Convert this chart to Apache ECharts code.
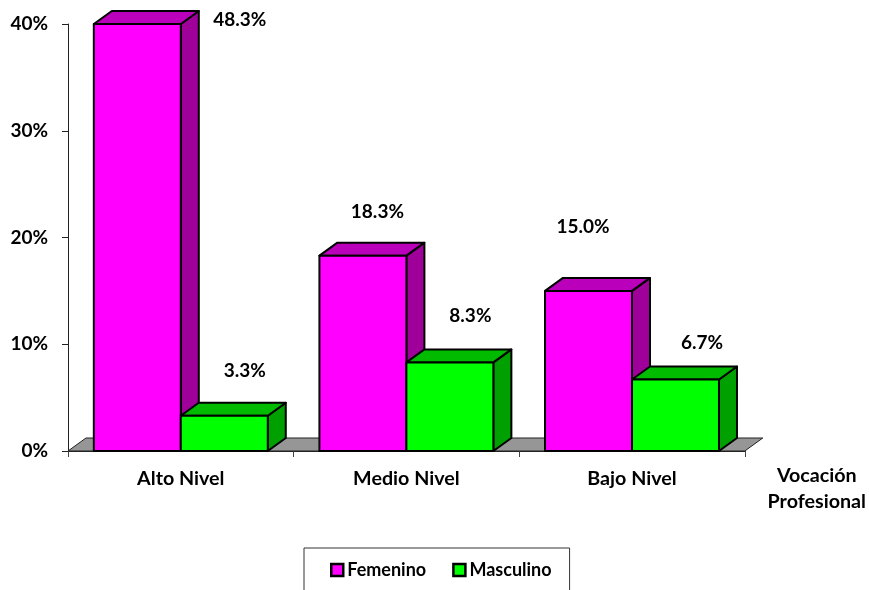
<!DOCTYPE html>
<html><head><meta charset="utf-8">
<style>html,body{margin:0;padding:0;background:#fff;overflow:hidden}#c{width:869px;height:590px}</style>
<script src="https://cdn.jsdelivr.net/npm/echarts@6/dist/echarts.min.js"></script>
</head><body><div id="c"></div>
<script>
var categories = ['Alto Nivel', 'Medio Nivel', 'Bajo Nivel'];
var femenino = [48.3, 18.3, 15.0];
var masculino = [3.3, 8.3, 6.7];
var yTicks = [0, 10, 20, 30, 40];
var axisTitle = 'Vocación\nProfesional';

// layout only: hand-placed value labels, offset from category centre / bar top
var femLabelOffset = [[59, -4], [-29, -44], [-49, -64]];
var mascLabelOffset = [[64, -45], [64, -47], [70, -37]];
var DX = 18, DY = 13, BAR_FRAC = 87 / 225.67;
var FONT = 'Lato, "Open Sans", sans-serif';
var FS = 19, FS_WORDS = 19.7;
var yMax = yTicks[yTicks.length - 1];

function barRenderer(side, front, top, right, offsets) {
  return function (params, api) {
    var i = api.value(0);
    var v = api.value(1);
    var c = api.coord([i, Math.min(v, yMax)]);
    var b = api.coord([i, 0]);
    var w = api.size([1, 0])[0] * BAR_FRAC;
    var x0 = side < 0 ? c[0] - w : c[0];
    var x1 = x0 + w, yt = c[1], yb = b[1];
    function poly(pts, fill) {
      return {type: 'polygon', shape: {points: pts},
        style: {fill: fill, stroke: '#000', lineWidth: 2, lineJoin: 'round'}};
    }
    var o = offsets[params.dataIndex];
    return {type: 'group', children: [
      poly([[x1, yb], [x1 + DX, yb - DY], [x1 + DX, yt - DY], [x1, yt]], right),
      poly([[x0, yt], [x0 + DX, yt - DY], [x1 + DX, yt - DY], [x1, yt]], top),
      poly([[x0, yb], [x0, yt], [x1, yt], [x1, yb]], front),
      {type: 'text', style: {x: c[0] + o[0], y: yt + o[1], text: v.toFixed(1) + '%',
        font: 'bold ' + FS + 'px ' + FONT, fill: '#000', align: 'center', verticalAlign: 'middle'}}
    ]};
  };
}

function floorRenderer(params, api) {
  var r = params.coordSys;
  var y = api.coord([0, 0])[1];
  return {type: 'polygon', shape: {points: [[r.x, y], [r.x + DX, y - DY], [r.x + r.width + DX, y - DY], [r.x + r.width, y]]},
    style: {fill: '#969696', stroke: '#222', lineWidth: 1}};
}

function rows(a) { return a.map(function (v, i) { return [i, v]; }); }

var chart = echarts.init(document.getElementById('c'), null, {renderer: 'canvas'});
chart.setOption({
  animation: false,
  backgroundColor: '#fff',
  textStyle: {fontFamily: FONT},
  grid: {left: 68, right: 124, top: 24, bottom: 139, containLabel: false},
  legend: {
    data: [
      {name: 'Femenino', icon: 'rect', itemStyle: {color: '#ff00ff', borderColor: '#000', borderWidth: 2.5}},
      {name: 'Masculino', icon: 'rect', itemStyle: {color: '#00ff00', borderColor: '#000', borderWidth: 2.5}}
    ],
    left: 304, top: 548, orient: 'horizontal',
    itemWidth: 12, itemHeight: 12, itemGap: 26,
    padding: [13, 18, 40, 26],
    borderColor: '#333', borderWidth: 1, backgroundColor: '#fff',
    textStyle: {fontFamily: FONT, fontWeight: 'bold', fontSize: 18, color: '#000', padding: [0, 0, 0, -1]}
  },
  xAxis: {
    type: 'category', data: categories,
    axisLine: {lineStyle: {color: '#222', width: 1}},
    axisTick: {show: true, length: 6, lineStyle: {color: '#444'}},
    axisLabel: {margin: 18, fontFamily: FONT, fontWeight: 'bold', fontSize: FS_WORDS, color: '#000'},
    name: axisTitle, nameLocation: 'end', nameGap: 72,
    nameTextStyle: {fontFamily: FONT, fontWeight: 'bold', fontSize: FS_WORDS, color: '#000', lineHeight: 26,
      align: 'center', verticalAlign: 'top', padding: [12, 0, 0, 0]}
  },
  yAxis: {
    type: 'value', min: 0, max: yMax, interval: 10,
    axisLine: {show: true, lineStyle: {color: '#222', width: 1}},
    axisTick: {show: true, length: 6, lineStyle: {color: '#222'}},
    splitLine: {show: false},
    axisLabel: {margin: 20, fontFamily: FONT, fontWeight: 'bold', fontSize: FS, color: '#000', formatter: '{value}%'}
  },
  series: [
    {type: 'custom', name: 'floor', z: 1, silent: true, clip: false, renderItem: floorRenderer, data: [[0, 0]], encode: {x: 0, y: 1}},
    {type: 'custom', name: 'Femenino', z: 2, clip: false, itemStyle: {color: '#ff00ff'},
      renderItem: barRenderer(-1, '#ff00ff', '#bb00bb', '#a0009a', femLabelOffset),
      data: rows(femenino), encode: {x: 0, y: 1}},
    {type: 'custom', name: 'Masculino', z: 3, clip: false, itemStyle: {color: '#00ff00'},
      renderItem: barRenderer(1, '#00ff00', '#00bb00', '#00a000', mascLabelOffset),
      data: rows(masculino), encode: {x: 0, y: 1}}
  ]
});
</script></body></html>
